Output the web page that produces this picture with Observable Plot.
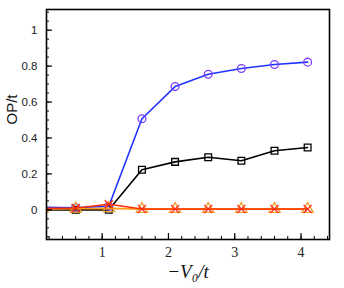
<!DOCTYPE html>
<html><head><meta charset="utf-8">
<script src="https://cdn.jsdelivr.net/npm/d3@7"></script>
<script src="https://cdn.jsdelivr.net/npm/@observablehq/plot@0.6"></script>
<style>body{margin:0;background:#fff}</style>
</head><body><div id="c"></div>
<script>
const xs = [0.1, 0.6, 1.1, 1.6, 2.1, 2.6, 3.1, 3.6, 4.1];
const blueVals = [0.015, 0.012, 0.02, 0.507, 0.686, 0.755, 0.787, 0.809, 0.822];
const blackVals = [0, 0, 0, 0.223, 0.267, 0.293, 0.273, 0.329, 0.347];
const orangeVals = [0.004, 0.006, 0.008, 0.004, 0.004, 0.004, 0.004, 0.004, 0.004];
const redVals = [0.008, 0.01, 0.031, 0.005, 0.005, 0.005, 0.005, 0.005, 0.005];
const yMajor = [0, 0.2, 0.4, 0.6, 0.8, 1];
const xMajor = [1, 2, 3, 4];
const xLabel = "−V₀/t";
const yLabel = "OP/t";

const rows = (vals) => xs.map((x, i) => ({x, y: vals[i]}));
const yMinor = d3.range(-0.15, 1.11, 0.05).map(v => +v.toFixed(2));
const xMinor = d3.range(0.2, 4.41, 0.2).map(v => +v.toFixed(1));

const series = [
  {vals: blackVals, line: "#000000", mark: "#000000", symbol: "square", r: 3.8},
  {vals: blueVals, line: "#1f35ff", mark: "#7a3cff", symbol: "circle", r: 3.9},
  {vals: orangeVals, line: "#ff9a1a", mark: "#f0a030", symbol: "triangle", r: 4.2},
  {vals: redVals, line: "#ff3000", mark: "#ff2a10", symbol: "times", r: 3.8}
];

const marks = [];
for (const s of series) {
  marks.push(Plot.line(rows(s.vals), {x: "x", y: "y", stroke: s.line, strokeWidth: 1.6, clip: "frame"}));
  marks.push(Plot.dot(rows(s.vals), {x: "x", y: "y", stroke: s.mark, fill: "none", symbol: s.symbol, r: s.r, strokeWidth: 1.3, clip: "frame"}));
}

const chart = Plot.plot({
  width: 344, height: 288,
  marginLeft: 46, marginRight: 15, marginTop: 9, marginBottom: 49,
  x: {domain: [0.16, 4.43]},
  y: {domain: [-0.165, 1.115]},
  style: {background: "#fff"},
  marks: [
    ...marks,
    Plot.axisY(yMinor, {tickSize: -3, text: null, label: null, strokeWidth: 1}),
    Plot.axisY(yMajor, {tickSize: -6, tickPadding: 15, tickFormat: d => String(d), label: null, fontSize: 11.5, fontFamily: "Liberation Sans, Arial, sans-serif", fill: "#222", strokeWidth: 1.2}),
    Plot.axisX(xMinor, {tickSize: -3, text: null, label: null, strokeWidth: 1}),
    Plot.axisX(xMajor, {tickSize: -6, tickPadding: 14, tickFormat: d => String(d), label: null, fontSize: 14, fontFamily: "Liberation Serif, Times New Roman, serif", fill: "#222", strokeWidth: 1.2}),
    Plot.frame({stroke: "#000", strokeWidth: 1.6}),
    Plot.text([xLabel], {frameAnchor: "bottom", dy: 38, text: d => d, fontSize: 19, fontFamily: "Liberation Serif, Times New Roman, serif", fontStyle: "italic", fill: "#111"}),
    Plot.text([yLabel], {frameAnchor: "left", dx: -34, rotate: -90, text: d => d, fontSize: 15, fontFamily: "Liberation Sans, Arial, sans-serif", fill: "#111"})
  ]
});
document.getElementById("c").appendChild(chart);
</script></body></html>
